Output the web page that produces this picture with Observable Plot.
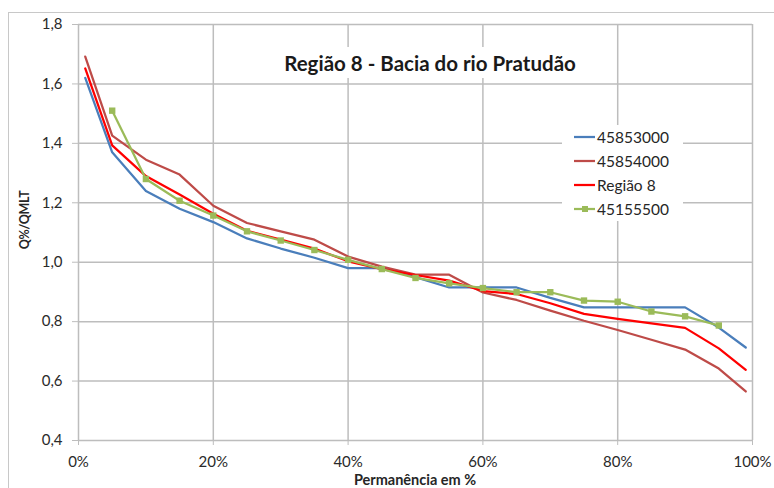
<!DOCTYPE html>
<html>
<head>
<meta charset="utf-8">
<script src="https://cdn.jsdelivr.net/npm/d3@7"></script>
<script src="https://cdn.jsdelivr.net/npm/@observablehq/plot@0.6"></script>
<style>
  html, body { margin: 0; padding: 0; background: #fff; overflow: hidden; }
  #wrap { position: relative; width: 774px; height: 488px; overflow: hidden; font-family: Lato, "Open Sans", sans-serif; color: #333; }
  #wrap > svg { position: absolute; left: 0; top: 0; }
  #border { position: absolute; left: 8px; top: 12px; width: 820px; height: 820px; border: 1px solid #c8c8c8; pointer-events: none; }
  #title { position: absolute; left: 260px; top: 47px; width: 340px; height: 31px; background: #fff; text-align: center; font-weight: bold; font-size: 20.5px; line-height: 32px; color: #1a1a1a; }
  #ylabel { position: absolute; left: 24px; top: 220px; transform: translate(-50%, -50%) rotate(-90deg); font-weight: bold; font-size: 12.5px; letter-spacing: -0.3px; color: #262626; white-space: nowrap; }
  #xlabel { position: absolute; left: 415px; top: 472px; line-height: 15px; transform: translateX(-50%); font-weight: bold; font-size: 14.5px; color: #262626; white-space: nowrap; }
  #legend { position: absolute; left: 562px; top: 125px; width: 121px; height: 96px; background: #fff; font-size: 15.5px; color: #262626; }
  .row { position: absolute; left: 12px; height: 20px; display: flex; align-items: center; }
  .row svg { margin-right: 2px; }
</style>
</head>
<body>
<div id="wrap">
  <div id="title">Região 8 - Bacia do rio Pratudão</div>
  <div id="ylabel">Q%/QMLT</div>
  <div id="xlabel">Permanência em %</div>
  <div id="legend"></div>
  <div id="border"></div>
</div>
<script>
// Permanence (%) for the gauged series
const perm = [1, 5, 10, 15, 20, 25, 30, 35, 40, 45, 50, 55, 60, 65, 70, 75, 80, 85, 90, 95, 99];
const s45853000 = [1.62, 1.37, 1.24, 1.18, 1.135, 1.08, 1.046, 1.015, 0.98, 0.98, 0.95, 0.915, 0.915, 0.915, 0.88, 0.848, 0.848, 0.848, 0.848, 0.78, 0.713];
const s45854000 = [1.692, 1.426, 1.345, 1.295, 1.19, 1.132, 1.104, 1.076, 1.019, 0.985, 0.958, 0.958, 0.898, 0.873, 0.837, 0.803, 0.772, 0.739, 0.706, 0.642, 0.565];
const regiao8 = [1.652, 1.393, 1.29, 1.228, 1.163, 1.106, 1.076, 1.046, 1.003, 0.977, 0.957, 0.938, 0.903, 0.893, 0.862, 0.826, 0.809, 0.794, 0.779, 0.71, 0.638];
// Station 45155500 starts at 5% and ends at 95%
const permGreen = [5, 10, 15, 20, 25, 30, 35, 40, 45, 50, 55, 60, 65, 70, 75, 80, 85, 90, 95];
const s45155500 = [1.51, 1.28, 1.207, 1.157, 1.104, 1.073, 1.041, 1.008, 0.977, 0.947, 0.929, 0.913, 0.899, 0.899, 0.871, 0.867, 0.834, 0.818, 0.787];

const seriesNames = ["45853000", "45854000", "Região 8", "45155500"];
const seriesColors = ["#4a7ebb", "#be4b48", "#ff0000", "#9bbb59"];

const xTicks = [0, 20, 40, 60, 80, 100];
const yTicks = [0.4, 0.6, 0.8, 1.0, 1.2, 1.4, 1.6, 1.8];

const toRows = (xs, ys) => xs.map((p, i) => ({p, v: ys[i]}));
const dBlue = toRows(perm, s45853000);
const dBrown = toRows(perm, s45854000);
const dRed = toRows(perm, regiao8);
const dGreen = toRows(permGreen, s45155500);

const gridStyle = {stroke: "#bdbdbd", strokeOpacity: 1, strokeWidth: 1.5};
const lw = 2.25;

const chart = Plot.plot({
  width: 774,
  height: 488,
  marginLeft: 78,
  marginRight: 22,
  marginTop: 24,
  marginBottom: 48,
  style: {background: "transparent", fontFamily: "Lato, 'Open Sans', sans-serif", fontSize: "15px", color: "#2a2a2a"},
  x: {domain: [0, 100]},
  y: {domain: [0.4, 1.8]},
  marks: [
    Plot.gridX(xTicks, gridStyle),
    Plot.gridY(yTicks, gridStyle),
    Plot.axisX(xTicks, {tickSize: 5, tickPadding: 11, stroke: "#bdbdbd", tickFormat: d => d + "%", label: null}),
    Plot.axisY(yTicks, {tickSize: 6, tickPadding: 10, stroke: "#bdbdbd", tickFormat: d => d.toFixed(1).replace(".", ","), label: null}),
    Plot.line(dBlue, {x: "p", y: "v", stroke: seriesColors[0], strokeWidth: lw}),
    Plot.line(dBrown, {x: "p", y: "v", stroke: seriesColors[1], strokeWidth: lw}),
    Plot.line(dRed, {x: "p", y: "v", stroke: seriesColors[2], strokeWidth: lw}),
    Plot.line(dGreen, {x: "p", y: "v", stroke: seriesColors[3], strokeWidth: lw}),
    Plot.dot(dGreen, {x: "p", y: "v", symbol: "square", r: 3.6, fill: seriesColors[3], stroke: "none"})
  ]
});
document.getElementById("wrap").prepend(chart);

// Legend
const legend = document.getElementById("legend");
const rowTops = [2, 26, 50, 74];
seriesNames.forEach((name, i) => {
  const row = document.createElement("div");
  row.className = "row";
  row.style.top = rowTops[i] + "px";
  const marker = i === 3 ? `<rect x="8" y="7" width="6" height="6" fill="${seriesColors[i]}"/>` : "";
  row.innerHTML = `<svg width="21" height="20"><line x1="0" x2="21" y1="10" y2="10" stroke="${seriesColors[i]}" stroke-width="${lw}"/>${marker}</svg><span>${name}</span>`;
  legend.appendChild(row);
});
</script>
</body>
</html>
